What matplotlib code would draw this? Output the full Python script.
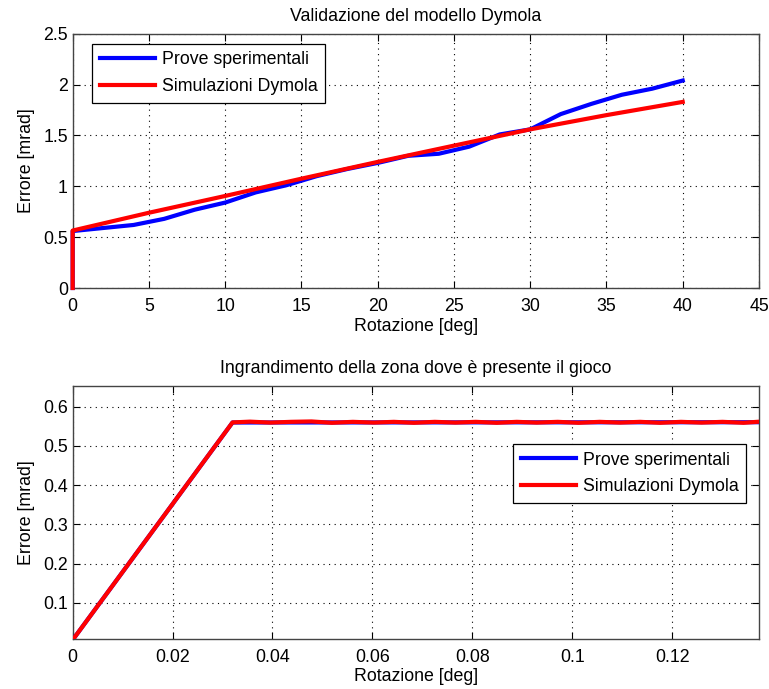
import matplotlib
matplotlib.use("Agg")
import matplotlib.pyplot as plt
from matplotlib.ticker import FixedLocator

plt.rcParams['font.family'] = ['Liberation Sans', 'DejaVu Sans']

# Overall rotation range (deg) vs error (mrad)
rot_full = [0, 0, 2, 4, 6, 8, 10, 12, 14, 16, 18, 20, 22, 24, 26, 28, 30, 32, 34, 36, 38, 40]
err_prove = [0.0, 0.56, 0.59, 0.62, 0.68, 0.77, 0.84, 0.94, 1.01, 1.10, 1.17, 1.23, 1.30, 1.32, 1.39, 1.51, 1.56, 1.71, 1.81, 1.90, 1.96, 2.04]
rot_sim = [0, 0, 5, 10, 15, 20, 25, 30, 35, 40]
err_sim = [0.0, 0.565, 0.74, 0.905, 1.075, 1.24, 1.40, 1.56, 1.70, 1.83]

# Zoom on the backlash region
rot_zoom_prove = [0.0, 0.032, 0.137]
err_zoom_prove = [0.005, 0.5598, 0.5605]
rot_zoom_sim = [0.0, 0.032, 0.0355, 0.0396, 0.0437, 0.0478, 0.0519, 0.0561, 0.0603,
                0.0643, 0.0683, 0.0725, 0.0766, 0.0807, 0.0849, 0.0889, 0.0929,
                0.0971, 0.1013, 0.1055, 0.1096, 0.1136, 0.1176, 0.1218, 0.1259,
                0.1301, 0.1343, 0.137]
err_zoom_sim = [0.005, 0.560, 0.562, 0.5595, 0.5615, 0.5625, 0.559, 0.5615, 0.5595,
                0.5615, 0.559, 0.5615, 0.5595, 0.5615, 0.559, 0.5615, 0.5595,
                0.5615, 0.559, 0.5615, 0.5595, 0.5615, 0.559, 0.5615, 0.5595,
                0.5615, 0.559, 0.5615]

labels = ["Prove sperimentali", "Simulazioni Dymola"]
FS = 12.8
LW = 3.0

fig = plt.figure(figsize=(7.69, 6.89), dpi=100)
ax1 = fig.add_axes([0.0945, 0.582, 0.8925, 0.369])
ax2 = fig.add_axes([0.0945, 0.0726, 0.8925, 0.3672])


def style(ax):
    ax.grid(True, linestyle=(0, (1, 4)), color='black', linewidth=0.8)
    ax.tick_params(direction='in', top=True, right=True, labelsize=FS, length=5, width=0.8)
    ax.tick_params(axis='x', pad=7)
    for s in ax.spines.values():
        s.set_color('#444444')
        s.set_linewidth(1.0)


def legend(ax, **kw):
    leg = ax.legend(fontsize=FS, fancybox=False, edgecolor='black', framealpha=1,
                    handlelength=3.1, handletextpad=0.4, borderpad=0.42,
                    labelspacing=0.55, **kw)
    leg.get_frame().set_linewidth(0.9)
    return leg


ax1.plot(rot_full, err_prove, color='#0000ff', lw=LW, label=labels[0], clip_on=False, zorder=3)
ax1.plot(rot_sim, err_sim, color='#ff0000', lw=LW, label=labels[1], clip_on=False, zorder=3)
ax1.set_xlim(0, 45)
ax1.set_ylim(0, 2.5)
ax1.xaxis.set_major_locator(FixedLocator([0, 5, 10, 15, 20, 25, 30, 35, 40, 45]))
ax1.yaxis.set_major_locator(FixedLocator([0, 0.5, 1, 1.5, 2, 2.5]))
ax1.set_yticklabels(["0", "0.5", "1", "1.5", "2", "2.5"])
style(ax1)
ax1.set_title("Validazione del modello Dymola", fontsize=FS, pad=9)
ax1.set_xlabel("Rotazione [deg]", fontsize=FS, labelpad=2)
ax1.set_ylabel("Errore [mrad]", fontsize=FS, labelpad=6)
legend(ax1, loc='upper left', bbox_to_anchor=(0.0285, 0.96), borderaxespad=0.0)

ax2.plot(rot_zoom_prove, err_zoom_prove, color='#0000ff', lw=LW, label=labels[0], zorder=3)
ax2.plot(rot_zoom_sim, err_zoom_sim, color='#ff0000', lw=LW, label=labels[1], zorder=3)
ax2.set_xlim(0, 0.1374)
ax2.set_ylim(0.0074, 0.653)
ax2.xaxis.set_major_locator(FixedLocator([0, 0.02, 0.04, 0.06, 0.08, 0.1, 0.12]))
ax2.set_xticklabels(["0", "0.02", "0.04", "0.06", "0.08", "0.1", "0.12"])
ax2.yaxis.set_major_locator(FixedLocator([0.1, 0.2, 0.3, 0.4, 0.5, 0.6]))
style(ax2)
ax2.set_title("Ingrandimento della zona dove è presente il gioco", fontsize=FS, pad=9)
ax2.set_xlabel("Rotazione [deg]", fontsize=FS, labelpad=2)
ax2.set_ylabel("Errore [mrad]", fontsize=FS, labelpad=6)
legend(ax2, loc='upper right', bbox_to_anchor=(0.9815, 0.7705), borderaxespad=0.0)

fig.savefig("out.png", dpi=100)
